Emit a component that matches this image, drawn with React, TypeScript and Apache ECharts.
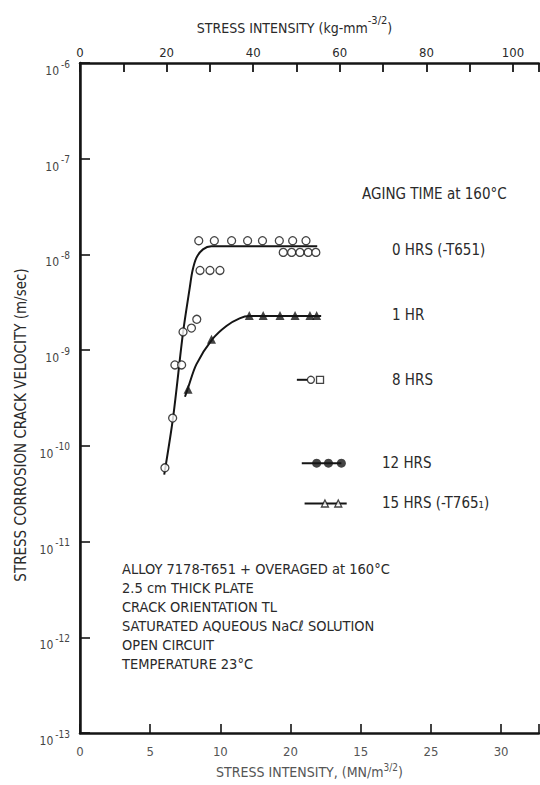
import React, { useEffect, useRef } from "react";
import * as echarts from "echarts";

const FONT = "'Liberation Sans Narrow', 'DejaVu Sans Condensed', 'Liberation Sans', sans-serif";
const INK = "#151515";
const TXT = "#2a2a2a";

// Bottom axis tick labels (MN/m^3/2) – printed as in the original figure
const BOTTOM_TICK_LABELS = ["0", "5", "10", "20", "15", "25", "30"];
// Top axis (kg-mm^-3/2) labelled every 20
const TOP_LABEL_STEP = 20;

// 0 HRS (-T651): fitted curve and data (x: MN/m^3/2, y: m/sec)
const CURVE_0H: [number, number][] = [
  [6.0, 5.0e-11], [6.63, 1.97e-10], [7.34, 1.52e-9], [7.82, 4.5e-9],
  [8.01, 6.7e-9], [8.29, 9.2e-9], [8.76, 1.13e-8], [9.36, 1.22e-8], [16.9, 1.22e-8],
];
const POINTS_0H: [number, number][] = [
  [8.46, 1.39e-8], [9.57, 1.39e-8], [10.8, 1.39e-8], [11.94, 1.39e-8],
  [13.0, 1.39e-8], [14.2, 1.39e-8], [15.15, 1.39e-8], [16.1, 1.39e-8],
  [14.48, 1.05e-8], [15.08, 1.05e-8], [15.67, 1.05e-8], [16.26, 1.05e-8], [16.8, 1.05e-8],
  [8.55, 6.8e-9], [9.26, 6.8e-9], [9.97, 6.8e-9],
  [8.32, 2.1e-9], [7.94, 1.7e-9], [7.34, 1.55e-9],
  [6.76, 7.0e-10], [7.24, 7.0e-10], [6.6, 1.95e-10], [6.05, 5.9e-11],
];

// 1 HR: fitted curve and data
const CURVE_1H: [number, number][] = [
  [7.48, 3.26e-10], [7.7, 4.05e-10], [8.29, 7.1e-10], [9.43, 1.3e-9],
  [10.43, 1.79e-9], [11.37, 2.15e-9], [12.08, 2.27e-9], [17.18, 2.27e-9],
];
const POINTS_1H: [number, number][] = [
  [12.06, 2.3e-9], [13.05, 2.3e-9], [14.25, 2.3e-9], [15.32, 2.3e-9],
  [16.38, 2.3e-9], [16.86, 2.3e-9], [9.37, 1.3e-9], [7.7, 3.9e-10],
];

// Legend keys drawn inside the plot (data coordinates)
const KEY_8H_LINE: [number, number][] = [[15.45, 4.9e-10], [16.2, 4.9e-10]];
const KEY_8H_CIRCLE: [number, number][] = [[16.45, 4.9e-10]];
const KEY_8H_SQUARE: [number, number][] = [[17.1, 4.9e-10]];
const KEY_12H_LINE: [number, number][] = [[15.8, 6.6e-11], [18.62, 6.6e-11]];
const KEY_12H_DOTS: [number, number][] = [[16.86, 6.6e-11], [17.7, 6.6e-11], [18.62, 6.6e-11]];
const KEY_15H_LINE: [number, number][] = [[16.0, 2.5e-11], [19.0, 2.5e-11]];
const KEY_15H_MARKS: [number, number][] = [[17.45, 2.5e-11], [18.4, 2.5e-11]];

const LEGEND_TITLE = "AGING TIME at 160°C";
const LEGEND_LABELS = ["0 HRS (-T651)", "1 HR", "8 HRS", "12 HRS", "15 HRS (-T765₁)"];
const NOTE_LINES = [
  "ALLOY 7178-T651 + OVERAGED at 160°C",
  "2.5 cm THICK PLATE",
  "CRACK ORIENTATION TL",
  "SATURATED AQUEOUS NaCℓ SOLUTION",
  "OPEN CIRCUIT",
  "TEMPERATURE 23°C",
];

export default function App() {
  const ref = useRef<HTMLDivElement>(null);
  useEffect(() => {
    if (!ref.current) return;
    const chart = echarts.init(ref.current, undefined, { renderer: "svg" });
    const openItem = { color: "#fff", borderColor: INK, borderWidth: 1.3 };
    const lineStyle = { color: INK, width: 2 };
    const legendPos = [
      { x: 392, y: 250 }, { x: 392, y: 315 }, { x: 392, y: 380 },
      { x: 382, y: 463 }, { x: 382, y: 503 },
    ];
    const txt = (text: string, x: number, y: number, size = 15) => ({
      type: "text",
      x, y,
      silent: true,
      style: {
        text, fill: TXT, font: `${size}px ${FONT}`,
        textVerticalAlign: "middle", verticalAlign: "middle",
      },
    });
    const option: any = {
      animation: false,
      backgroundColor: "#fff",
      grid: { left: 80, right: 1, top: 63, bottom: 52, containLabel: false, outerBoundsMode: "none" },
      xAxis: [
        {
          type: "value", position: "bottom", min: 0, max: 32.7, interval: 5,
          axisLine: { lineStyle: { color: INK, width: 2.5 } },
          axisTick: { inside: true, length: 9, lineStyle: { color: INK, width: 1.6 } },
          splitLine: { show: false },
          axisLabel: {
            margin: 12, color: "#555", fontSize: 13, fontFamily: FONT,
            formatter: (v: number) => {
              const i = Math.round(v / 5);
              return Math.abs(v - i * 5) < 1e-6 && i < BOTTOM_TICK_LABELS.length ? BOTTOM_TICK_LABELS[i] : "";
            },
          },
          name: "{a|STRESS INTENSITY, (MN/m}{s|3/2}{a|)}",
          nameLocation: "middle", nameGap: 29,
          nameTextStyle: {
            rich: {
              a: { fontSize: 14, fontFamily: FONT, color: "#555", lineHeight: 16, verticalAlign: "bottom" },
              s: { fontSize: 10, fontFamily: FONT, color: "#555", lineHeight: 16, verticalAlign: "top" },
            },
          },
        },
        {
          type: "value", position: "top", min: 0, max: 106, interval: 10,
          axisLine: { lineStyle: { color: INK, width: 2.5 } },
          axisTick: { inside: true, length: 9, lineStyle: { color: INK, width: 1.8 } },
          splitLine: { show: false },
          axisLabel: {
            margin: 4, color: TXT, fontSize: 13, fontFamily: FONT,
            formatter: (v: number) => (v % TOP_LABEL_STEP === 0 && v <= 100 ? String(v) : ""),
          },
          name: "{a|STRESS INTENSITY (kg-mm}{s|-3/2}{a|)}",
          nameLocation: "middle", nameGap: 28,
          nameTextStyle: {
            padding: [0, 0, 0, -30],
            rich: {
              a: { fontSize: 14, fontFamily: FONT, color: TXT, lineHeight: 20, verticalAlign: "bottom" },
              s: { fontSize: 11, fontFamily: FONT, color: TXT, lineHeight: 20, verticalAlign: "top" },
            },
          },
        },
      ],
      yAxis: [
        {
          type: "log", logBase: 10, min: 1e-13, max: 1e-6, splitNumber: 7, position: "left",
          axisLine: { lineStyle: { color: INK, width: 2.5 } },
          axisTick: { inside: true, length: 10, lineStyle: { color: INK, width: 1.6 } },
          splitLine: { show: false },
          minorTick: { show: false },
          axisLabel: {
            margin: 10, padding: [10, 0, 0, 0],
            formatter: (v: number) => `{b|10}{s|${Math.round(Math.log10(v))}}`,
            rich: {
              b: { fontSize: 12, fontFamily: FONT, color: "#444", lineHeight: 18, verticalAlign: "bottom" },
              s: { fontSize: 10, fontFamily: FONT, color: "#444", lineHeight: 18, verticalAlign: "top", padding: [0, 0, 0, 2] },
            },
          },
          name: "STRESS CORROSION CRACK VELOCITY (m/sec)",
          nameLocation: "middle", nameGap: 52, nameRotate: 90,
          nameTextStyle: { fontSize: 15, fontFamily: FONT, color: TXT, padding: [0, 0, 0, -54] },
        },
        {
          type: "log", logBase: 10, min: 1e-13, max: 1e-6, position: "right",
          axisLine: { lineStyle: { color: INK, width: 1.5 } },
          axisTick: { show: false }, axisLabel: { show: false }, splitLine: { show: false },
        },
      ],
      series: [
        { type: "line", data: CURVE_0H, symbol: "none", smooth: 0.3, lineStyle, z: 2 },
        { type: "scatter", data: POINTS_0H, symbol: "circle", symbolSize: 8, itemStyle: openItem, z: 3 },
        { type: "line", data: CURVE_1H, symbol: "none", smooth: 0.3, lineStyle, z: 2 },
        { type: "scatter", data: POINTS_1H, symbol: "triangle", symbolSize: 9, itemStyle: { color: INK }, z: 3 },
        { type: "line", data: KEY_8H_LINE, symbol: "none", lineStyle, z: 2 },
        { type: "scatter", data: KEY_8H_CIRCLE, symbol: "circle", symbolSize: 7, itemStyle: openItem, z: 3 },
        { type: "scatter", data: KEY_8H_SQUARE, symbol: "rect", symbolSize: 7, itemStyle: openItem, z: 3 },
        { type: "line", data: KEY_12H_LINE, symbol: "none", lineStyle, z: 2 },
        { type: "scatter", data: KEY_12H_DOTS, symbol: "circle", symbolSize: 9, itemStyle: { color: INK }, z: 3 },
        { type: "line", data: KEY_15H_LINE, symbol: "none", lineStyle, z: 2 },
        { type: "scatter", data: KEY_15H_MARKS, symbol: "triangle", symbolSize: 7, itemStyle: openItem, z: 3 },
      ],
      graphic: [
        txt(LEGEND_TITLE, 362, 194),
        ...LEGEND_LABELS.map((t, i) => txt(t, legendPos[i].x, legendPos[i].y)),
        {
          type: "text", x: 122, y: 559, silent: true,
          style: {
            text: NOTE_LINES.join("\n"), fill: TXT, font: `14.5px ${FONT}`, lineHeight: 19,
          },
        },
      ],
    };
    chart.setOption(option);
    return () => chart.dispose();
  }, []);
  return (
    <div
      ref={ref}
      style={{ position: "fixed", left: 0, top: 0, width: 540, height: 785, background: "#fff" }}
    />
  );
}
